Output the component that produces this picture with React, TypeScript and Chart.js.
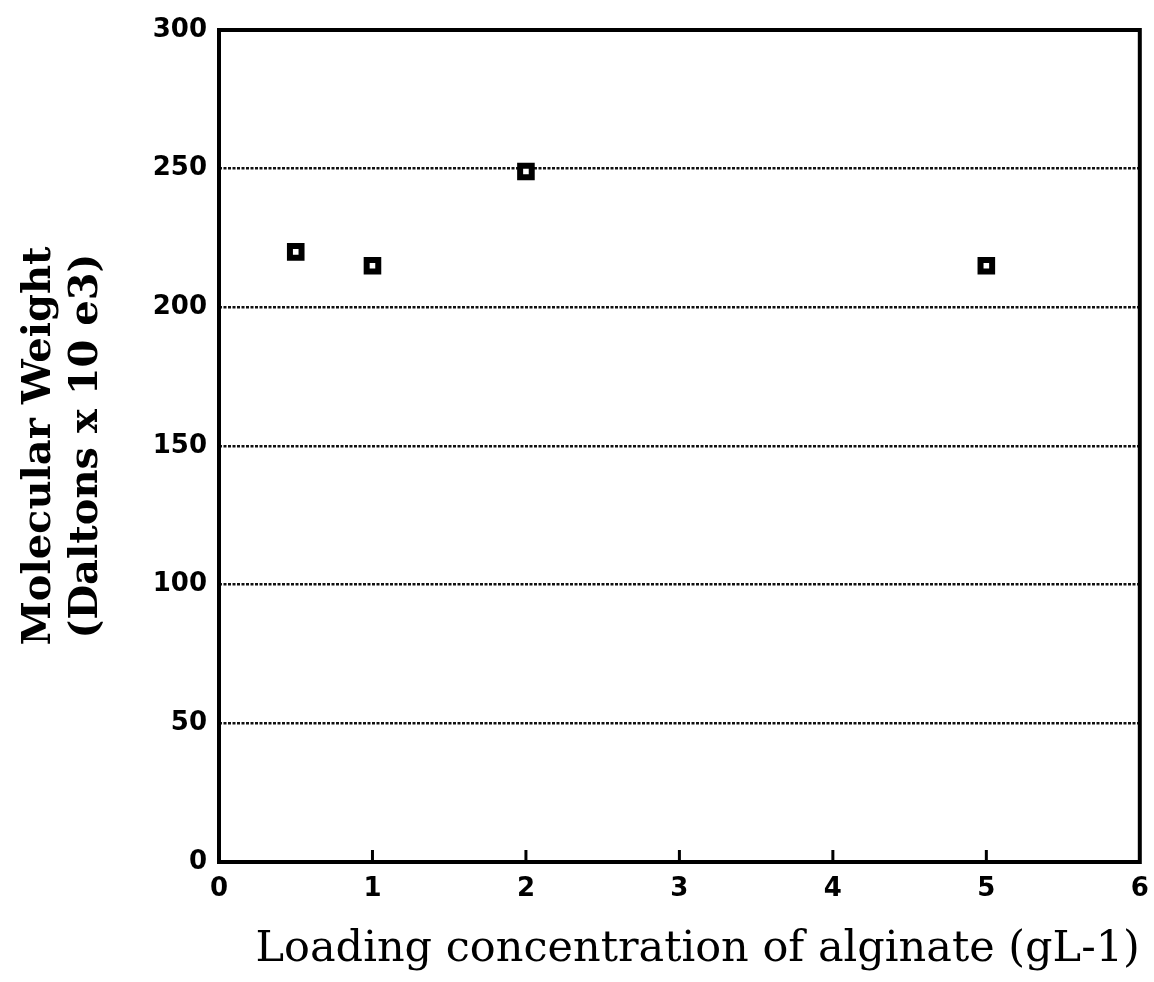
import React, { useEffect, useRef } from "react";
import { Chart, registerables } from "chart.js";

Chart.register(...registerables);

const loadings = [0.5, 1, 2, 5];
const molWeights = [220, 215, 249, 215];
const xTickValues = [0, 1, 2, 3, 4, 5, 6];
const yTickValues = [0, 50, 100, 150, 200, 250, 300];
const xTitle = "Loading concentration of alginate (gL-1)";
const yTitle = ["Molecular Weight", "(Daltons x 10 e3)"];

const framePlugin = {
  id: "frame",
  afterDatasetsDraw(chart: any) {
    const { ctx, chartArea, scales } = chart;
    ctx.save();
    ctx.strokeStyle = "#000";
    ctx.lineWidth = 4;
    ctx.strokeRect(chartArea.left, chartArea.top, chartArea.right - chartArea.left, chartArea.bottom - chartArea.top);
    ctx.lineWidth = 3;
    xTickValues.forEach((v) => {
      if (v === xTickValues[0] || v === xTickValues[xTickValues.length - 1]) return;
      const px = scales.x.getPixelForValue(v);
      ctx.beginPath();
      ctx.moveTo(px, chartArea.bottom);
      ctx.lineTo(px, chartArea.bottom - 12);
      ctx.stroke();
    });
    ctx.restore();
  },
};

export default function App() {
  const ref = useRef<HTMLCanvasElement | null>(null);
  useEffect(() => {
    if (!ref.current) return;
    const chart = new Chart(ref.current, {
      type: "scatter",
      data: {
        datasets: [
          {
            data: loadings.map((x, i) => ({ x, y: molWeights[i] })),
            pointStyle: "rect",
            pointRadius: 8.2,
            pointHoverRadius: 8.2,
            backgroundColor: "#fff",
            borderColor: "#000",
            borderWidth: 6,
          },
          {
            data: loadings.map((x, i) => ({ x, y: molWeights[i] })),
            pointStyle: "circle",
            pointRadius: 1.4,
            backgroundColor: "#000",
            borderColor: "#000",
            borderWidth: 0,
          },
        ],
      },
      options: {
        responsive: false,
        animation: false,
        layout: { padding: { top: 30, right: 13, left: 0, bottom: 0 } },
        plugins: { legend: { display: false }, tooltip: { enabled: false } },
        scales: {
          x: {
            type: "linear",
            min: 0,
            max: 6,
            afterBuildTicks: (s: any) => {
              s.ticks = xTickValues.map((v) => ({ value: v }));
            },
            afterFit: (s: any) => {
              s.height = 120;
              s.paddingLeft = 0;
              s.paddingRight = 0;
            },
            grid: { display: false, drawTicks: false },
            border: { display: false },
            ticks: {
              padding: 12,
              color: "#000",
              font: { family: "DejaVu Sans", size: 26, weight: "bold" },
            },
            title: {
              display: true,
              text: xTitle,
              align: "end",
              color: "#000",
              font: { family: "DejaVu Serif", size: 43 },
              padding: { top: 0, bottom: 6 },
            },
          },
          y: {
            type: "linear",
            min: 0,
            max: 300,
            afterBuildTicks: (s: any) => {
              s.ticks = yTickValues.map((v) => ({ value: v }));
            },
            afterFit: (s: any) => {
              s.width = 219;
              s.paddingTop = 0;
              s.paddingBottom = 0;
            },
            grid: {
              drawTicks: false,
              color: (c: any) =>
                c.tick && (c.tick.value === 0 || c.tick.value === 300) ? "rgba(0,0,0,0)" : "#111",
              lineWidth: 2.5,
            },
            border: { display: false, dash: [3, 1.5] },
            ticks: {
              padding: 12,
              color: "#000",
              font: { family: "DejaVu Sans", size: 26, weight: "bold" },
            },
            title: {
              display: true,
              text: yTitle,
              color: "#000",
              font: { family: "DejaVu Serif", size: 40, weight: "bold", lineHeight: 1.18 },
              padding: { top: 16, bottom: 0 },
            },
          },
        },
      },
      plugins: [framePlugin],
    } as any);
    return () => chart.destroy();
  }, []);
  return (
    <div style={{ position: "absolute", left: 0, top: 0, width: 1154, height: 982, background: "#fff" }}>
      <canvas ref={ref} width={1154} height={982} />
    </div>
  );
}
